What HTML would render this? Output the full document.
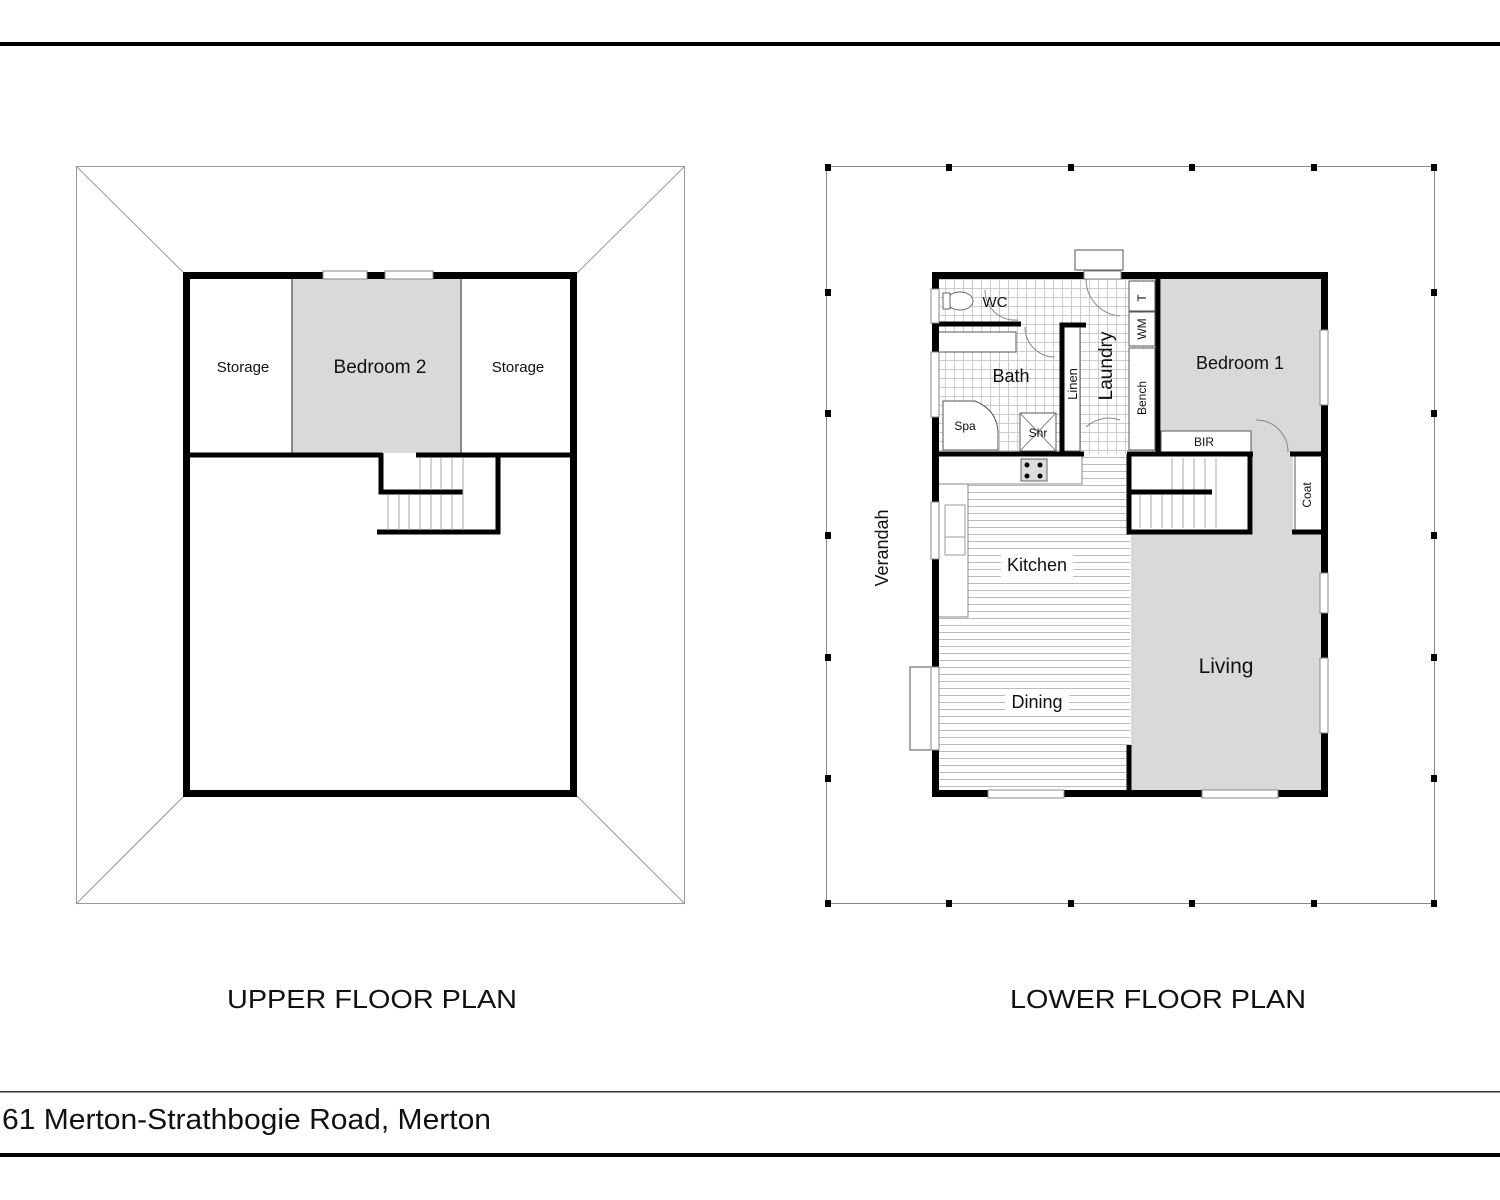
<!DOCTYPE html>
<html><head><meta charset="utf-8"><style>
html,body{margin:0;padding:0;background:#fff}
svg{display:block}
text{font-family:"Liberation Sans",Arial,sans-serif;fill:#111}
</style></head><body>
<svg width="1500" height="1200" viewBox="0 0 1500 1200" xmlns="http://www.w3.org/2000/svg">
<defs>
<pattern id="boards" x="0" y="485" width="10" height="7" patternUnits="userSpaceOnUse">
<rect width="10" height="7" fill="#fff"/><line x1="0" y1="0.5" x2="10" y2="0.5" stroke="#bbb" stroke-width="1"/>
</pattern>
<pattern id="tiles" width="9" height="9" patternUnits="userSpaceOnUse">
<rect width="9" height="9" fill="#fff"/><path d="M0 0.5H9M0.5 0V9" stroke="#ccc" stroke-width="1"/>
</pattern>
</defs>
<rect x="0" y="42" width="1500" height="4" fill="#000"/>
<rect x="0" y="1091" width="1500" height="1.5" fill="#333"/>
<rect x="0" y="1153" width="1500" height="4" fill="#000"/>
<text x="2" y="1129" font-size="29" textLength="489" lengthAdjust="spacingAndGlyphs">61 Merton-Strathbogie Road, Merton</text>
<text x="227" y="1008" font-size="26" textLength="290" lengthAdjust="spacingAndGlyphs">UPPER FLOOR PLAN</text>
<text x="1010" y="1008" font-size="26" textLength="296" lengthAdjust="spacingAndGlyphs">LOWER FLOOR PLAN</text>

<!-- UPPER -->
<g fill="none" stroke="#999" stroke-width="1">
<rect x="76.5" y="166.5" width="608" height="737"/>
<line x1="76" y1="166" x2="185" y2="274"/>
<line x1="685" y1="166" x2="576" y2="274"/>
<line x1="76" y1="904" x2="185" y2="795"/>
<line x1="685" y1="904" x2="576" y2="795"/>
</g>
<rect x="292" y="279" width="169" height="174" fill="#d9d9d9"/>
<line x1="292" y1="279" x2="292" y2="453" stroke="#888" stroke-width="2"/>
<line x1="461" y1="279" x2="461" y2="453" stroke="#888" stroke-width="2"/>
<g fill="none" stroke="#000" stroke-width="7">
<rect x="186.5" y="275.5" width="387" height="518"/>
</g>
<rect x="323" y="271" width="44" height="8" fill="#fff" stroke="#888" stroke-width="1"/>
<rect x="385" y="271" width="48" height="8" fill="#fff" stroke="#888" stroke-width="1"/>
<g stroke="#000" stroke-width="5" fill="none">
<line x1="190" y1="455" x2="382" y2="455"/>
<line x1="416" y1="455" x2="571" y2="455"/>
<polyline points="381,453 381,492 463,492"/>
<polyline points="498,455 498,532 377,532"/>
</g>
<g stroke="#aaa" stroke-width="1">
<line x1="420" y1="458" x2="420" y2="490"/><line x1="431" y1="458" x2="431" y2="490"/><line x1="441" y1="458" x2="441" y2="490"/><line x1="452" y1="458" x2="452" y2="490"/><line x1="463" y1="458" x2="463" y2="530"/>
<line x1="388" y1="495" x2="388" y2="530"/><line x1="399" y1="495" x2="399" y2="530"/><line x1="409" y1="495" x2="409" y2="530"/><line x1="420" y1="495" x2="420" y2="530"/><line x1="431" y1="495" x2="431" y2="530"/><line x1="441" y1="495" x2="441" y2="530"/><line x1="452" y1="495" x2="452" y2="530"/>
</g>
<text x="243" y="372" font-size="15" text-anchor="middle">Storage</text>
<text x="380" y="373" font-size="19" text-anchor="middle">Bedroom 2</text>
<text x="518" y="372" font-size="15" text-anchor="middle">Storage</text>

<!-- LOWER -->
<rect x="826.5" y="166.5" width="608" height="737" fill="none" stroke="#888" stroke-width="1"/>
<g fill="#000">
<rect x="825" y="164" width="6" height="7"/><rect x="946" y="164" width="6" height="7"/><rect x="1068" y="164" width="6" height="7"/><rect x="1189" y="164" width="6" height="7"/><rect x="1311" y="164" width="6" height="7"/><rect x="1431" y="164" width="6" height="7"/>
<rect x="825" y="900" width="6" height="7"/><rect x="946" y="900" width="6" height="7"/><rect x="1068" y="900" width="6" height="7"/><rect x="1189" y="900" width="6" height="7"/><rect x="1311" y="900" width="6" height="7"/><rect x="1431" y="900" width="6" height="7"/>
<rect x="825" y="289" width="6" height="7"/><rect x="825" y="410" width="6" height="7"/><rect x="825" y="532" width="6" height="7"/><rect x="825" y="654" width="6" height="7"/><rect x="825" y="775" width="6" height="7"/>
<rect x="1431" y="289" width="6" height="7"/><rect x="1431" y="410" width="6" height="7"/><rect x="1431" y="532" width="6" height="7"/><rect x="1431" y="654" width="6" height="7"/><rect x="1431" y="775" width="6" height="7"/>
</g>
<rect x="938" y="279" width="222" height="175" fill="url(#tiles)"/>
<rect x="1161" y="279" width="161" height="175" fill="#d9d9d9"/>
<rect x="1253" y="454" width="40" height="80" fill="#d9d9d9"/>
<rect x="1131" y="533" width="191" height="258" fill="#d9d9d9"/>
<rect x="938" y="454" width="192" height="337" fill="url(#boards)"/>
<rect x="938" y="456" width="144" height="28" fill="#fff" stroke="#888" stroke-width="1"/>
<rect x="1021" y="459" width="26" height="22" fill="#ddd" stroke="#666"/>
<circle cx="1027" cy="465" r="2.5"/><circle cx="1040" cy="465" r="2.5"/><circle cx="1027" cy="476" r="2.5"/><circle cx="1040" cy="476" r="2.5"/>
<rect x="938" y="484" width="30" height="133" fill="#fff" stroke="#888" stroke-width="1"/>
<rect x="945" y="505" width="20" height="50" fill="#fff" stroke="#999"/>
<line x1="945" y1="537" x2="965" y2="537" stroke="#999"/>
<rect x="1131" y="457" width="118" height="72" fill="#fff"/>
<g stroke="#aaa" stroke-width="1">
<line x1="1172" y1="458" x2="1172" y2="490"/><line x1="1183" y1="458" x2="1183" y2="490"/><line x1="1194" y1="458" x2="1194" y2="490"/><line x1="1205" y1="458" x2="1205" y2="490"/><line x1="1216" y1="458" x2="1216" y2="528"/>
<line x1="1140" y1="495" x2="1140" y2="528"/><line x1="1151" y1="495" x2="1151" y2="528"/><line x1="1162" y1="495" x2="1162" y2="528"/><line x1="1172" y1="495" x2="1172" y2="528"/><line x1="1183" y1="495" x2="1183" y2="528"/><line x1="1194" y1="495" x2="1194" y2="528"/><line x1="1205" y1="495" x2="1205" y2="528"/>
</g>
<g fill="#fff" stroke="#555" stroke-width="1">
<rect x="1129" y="281" width="26" height="30"/>
<rect x="1129" y="312" width="26" height="34"/>
<rect x="1129" y="348" width="26" height="102"/>
<rect x="1161" y="431" width="90" height="21"/>
<rect x="1295" y="456" width="27" height="76"/>
<rect x="938" y="332" width="78" height="20"/>
<rect x="1064" y="327" width="16" height="124"/>
<rect x="1020" y="413" width="36" height="38"/>
<path d="M943 401 H975 Q997 410 998 432 V450 H943 Z"/>
<rect x="1075" y="250" width="48" height="20"/>
<rect x="910" y="667" width="25" height="83"/>
</g>
<line x1="1020" y1="413" x2="1056" y2="451" stroke="#888"/><line x1="1056" y1="413" x2="1020" y2="451" stroke="#888"/>
<ellipse cx="960" cy="301" rx="13" ry="9" fill="#fff" stroke="#666"/>
<rect x="943" y="293" width="7" height="16" fill="#fff" stroke="#666"/>
<g fill="none" stroke="#000" stroke-width="7">
<rect x="935.5" y="275.5" width="389" height="518"/>
</g>
<g stroke="#000" stroke-width="5" fill="none">
<line x1="938" y1="324" x2="1021" y2="324"/>
<polyline points="1062,452 1062,325 1086,325"/>
<line x1="1158" y1="276" x2="1158" y2="452"/>
<line x1="938" y1="454" x2="1084" y2="454"/>
<line x1="1127" y1="454" x2="1253" y2="454"/>
<line x1="1290" y1="454" x2="1325" y2="454"/>
<polyline points="1129,454 1129,532 1250,532 1250,454"/>
<line x1="1129" y1="492" x2="1212" y2="492"/>
<line x1="1292" y1="532" x2="1325" y2="532"/>
<line x1="1129" y1="745" x2="1129" y2="791"/>
</g>
<g fill="#fff" stroke="#888" stroke-width="1">
<rect x="1084" y="271" width="37" height="8"/>
<rect x="931" y="289" width="8" height="34"/>
<rect x="931" y="352" width="8" height="65"/>
<rect x="931" y="502" width="8" height="57"/>
<rect x="931" y="667" width="8" height="83"/>
<rect x="988" y="790" width="76" height="8"/>
<rect x="1202" y="790" width="76" height="8"/>
<rect x="1320" y="330" width="8" height="75"/>
<rect x="1320" y="573" width="8" height="40"/>
<rect x="1320" y="658" width="8" height="75"/>
</g>
<g fill="none" stroke="#888" stroke-width="1">
<path d="M1086 279 A37 37 0 0 0 1120 316"/>
<path d="M1086 427 A34 34 0 0 1 1120 420"/>
<path d="M1025 327 A30 30 0 0 0 1055 357"/>
<path d="M985 290 A30 30 0 0 0 1018 320"/>
<path d="M1256 420 A32 32 0 0 1 1288 452"/>
</g>
<text x="995" y="307" font-size="15" text-anchor="middle">WC</text>
<text x="1011" y="382" font-size="18" text-anchor="middle">Bath</text>
<text x="965" y="430" font-size="12" text-anchor="middle">Spa</text>
<text x="1038" y="437" font-size="12" text-anchor="middle">Shr</text>
<text transform="translate(1077,384) rotate(-90)" font-size="13" text-anchor="middle">Linen</text>
<text transform="translate(1112,366) rotate(-90)" font-size="19" text-anchor="middle">Laundry</text>
<text transform="translate(1146,298) rotate(-90)" font-size="12" text-anchor="middle">T</text>
<text transform="translate(1146,329) rotate(-90)" font-size="12" text-anchor="middle">WM</text>
<text transform="translate(1146,398) rotate(-90)" font-size="12" text-anchor="middle">Bench</text>
<text x="1240" y="369" font-size="18" text-anchor="middle">Bedroom 1</text>
<text x="1204" y="446" font-size="12" text-anchor="middle">BIR</text>
<text transform="translate(1311,495) rotate(-90)" font-size="12" text-anchor="middle">Coat</text>
<text transform="translate(888,548) rotate(-90)" font-size="18" text-anchor="middle">Verandah</text>
<rect x="1001" y="552" width="72" height="26" fill="#fff"/>
<text x="1037" y="571" font-size="18" text-anchor="middle">Kitchen</text>
<rect x="1005" y="689" width="64" height="26" fill="#fff"/>
<text x="1037" y="708" font-size="18" text-anchor="middle">Dining</text>
<text x="1226" y="673" font-size="21" text-anchor="middle">Living</text>
</svg>
</body></html>
